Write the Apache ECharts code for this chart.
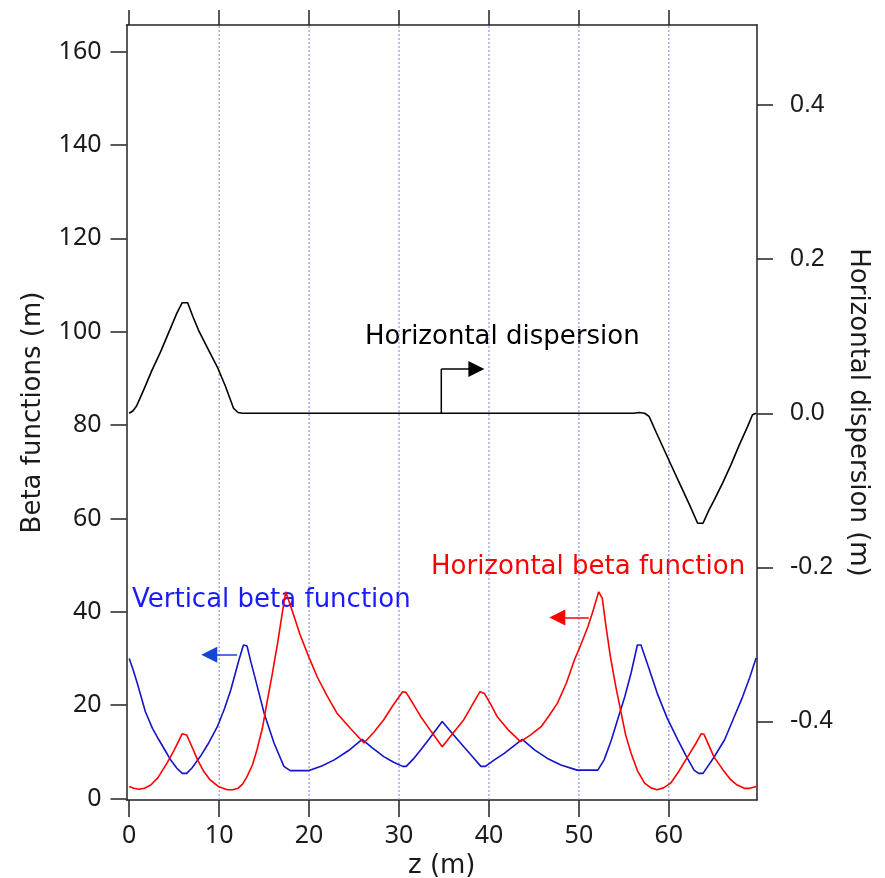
<!DOCTYPE html>
<html>
<head>
<meta charset="utf-8">
<script src="https://cdn.jsdelivr.net/npm/echarts@6/dist/echarts.min.js"></script>
<style>
html, body { margin: 0; padding: 0; background: #fff; }
#chart { width: 885px; height: 878px; }
</style>
</head>
<body>
<div id="chart"></div>
<script>
// Axis ticks
const zTicks = [0, 10, 20, 30, 40, 50, 60];
const gridZ = [10, 20, 30, 40, 50, 60];
const betaTicks = [0, 20, 40, 60, 80, 100, 120, 140, 160];
const dispTicks = [-0.4, -0.2, 0.0, 0.2, 0.4];

// Horizontal beta function (m) along z (m)
const betaXz = [0.0, 0.5, 1.1, 1.7, 2.4, 3.2, 4.2, 5.0, 5.9, 6.4, 7.0, 7.6, 8.3, 9.0, 9.9, 10.9, 11.5, 12.1, 12.6, 13.1,
  13.7, 14.2, 14.8, 15.3, 15.9, 16.5, 17.0, 17.4, 17.6, 18.1, 19.0, 20.0, 20.9, 22.0, 23.1, 24.6, 26.1, 27.2, 28.3, 29.3,
  30.4, 30.8, 31.6, 32.4, 33.6, 34.8, 36.0, 37.2, 38.1, 39.0, 39.5, 40.2, 40.9, 42.2, 43.5, 44.6, 45.8, 46.7, 47.6, 48.6,
  49.5, 50.2, 51.0, 51.6, 52.2, 52.4, 52.6, 53.0, 53.5, 54.1, 54.7, 55.2, 55.8, 56.5, 57.3, 58.0, 58.7, 59.4, 60.2, 61.1,
  62.1, 63.0, 63.6, 63.9, 64.4, 65.0, 66.0, 66.9, 67.6, 68.4, 69.0, 69.7];
const betaX = [2.6, 2.2, 2.0, 2.2, 2.9, 4.5, 7.6, 10.4, 13.9, 13.6, 11.0, 8.3, 5.8, 4.0, 2.6, 1.9, 1.9, 2.2, 3.1, 4.7,
  7.2, 10.4, 15.0, 20.4, 26.6, 33.3, 39.5, 44.3, 44.0, 40.4, 35.1, 30.2, 26.1, 22.0, 18.3, 15.0, 11.9, 14.2, 16.9, 19.9,
  22.9, 22.7, 20.2, 17.6, 14.3, 11.1, 14.0, 16.9, 19.9, 22.9, 22.5, 20.2, 17.6, 14.6, 12.2, 13.6, 15.4, 17.8, 20.4, 24.7,
  29.7, 32.9, 36.8, 40.4, 44.3, 44.2, 42.9, 37.0, 30.4, 24.0, 18.3, 13.6, 9.7, 6.0, 3.3, 2.3, 1.9, 2.3, 3.3, 5.8,
  9.0, 11.8, 13.9, 13.8, 11.6, 9.0, 6.2, 4.0, 2.9, 2.2, 2.2, 2.6];

// Vertical beta function (m) along z (m)
const betaYz = [0.0, 0.4, 0.9, 1.8, 2.6, 3.3, 4.0, 4.6, 5.3, 5.9, 6.4, 7.0, 7.9, 8.8, 9.8, 10.6, 11.3, 12.2, 12.7, 13.1,
  13.5, 14.0, 15.0, 16.1, 17.2, 17.9, 20.0, 21.4, 22.8, 24.4, 25.9, 27.0, 28.3, 29.4, 30.4, 30.8, 31.6, 32.4, 33.6, 34.8,
  36.0, 37.2, 38.2, 39.1, 39.6, 40.6, 41.7, 43.7, 45.1, 46.5, 48.0, 49.8, 52.1, 52.8, 53.6, 54.3, 55.1, 55.8, 56.5, 56.9,
  57.8, 58.7, 59.8, 61.0, 61.9, 62.8, 63.3, 63.8, 65.0, 66.2, 67.2, 68.2, 69.0, 69.7];
const betaY = [30.0, 27.8, 24.7, 18.6, 15.0, 12.6, 10.3, 8.3, 6.5, 5.4, 5.4, 6.6, 9.0, 11.8, 15.4, 19.3, 23.3, 29.7, 32.9, 32.7,
  29.5, 25.8, 18.3, 11.9, 6.9, 6.0, 6.0, 7.0, 8.3, 10.3, 12.7, 10.9, 9.0, 7.8, 6.9, 6.9, 8.5, 10.4, 13.4, 16.5,
  13.8, 11.1, 8.9, 6.9, 6.9, 8.3, 9.7, 12.7, 10.4, 8.6, 7.2, 6.1, 6.1, 8.3, 12.5, 16.9, 21.8, 26.9, 32.9, 32.9,
  27.8, 22.6, 17.3, 12.6, 9.2, 6.1, 5.4, 5.4, 8.8, 12.6, 17.2, 21.8, 26.0, 30.1];

// Horizontal dispersion (m) along z (m)
const dispZ = [0.0, 0.4, 0.8, 1.6, 2.5, 3.5, 4.4, 5.3, 5.9, 6.5, 7.1, 7.7, 8.7, 9.8, 10.7, 11.6, 12.1, 12.6,
  56.1, 56.7, 57.3, 57.8, 58.6, 59.5, 60.4, 61.35, 62.3, 63.2, 63.8, 64.4, 65.05, 66.0, 66.9, 67.8, 68.76, 69.3, 69.7];
const disp = [0.0, 0.003, 0.009, 0.030, 0.055, 0.080, 0.105, 0.130, 0.1435, 0.1435, 0.125, 0.108, 0.085, 0.060, 0.035, 0.0065, 0.001, 0.0,
  0.0, 0.001, 0.0, -0.004, -0.025, -0.048, -0.071, -0.095, -0.119, -0.1427, -0.1427, -0.127, -0.1125, -0.090, -0.067, -0.042, -0.017, -0.002, 0.0];

// Annotation arrows (data coordinates)
const dispStem = [[34.7, 0.0], [34.7, 0.0575]];
const dispArrow = [[34.7, 0.0575], [38.6, 0.0575]];
const betaYArrow = [[12.0, 30.8], [8.9, 30.8]];
const betaXArrow = [[51.1, 38.8], [47.6, 38.8]];

const betaRange = [-0.3, 165.7];
const zRange = [-0.3, 69.8];
const dispRange = [-0.502, 0.504];

const zip = (xs, ys) => xs.map((x, i) => [x, ys[i]]);

const axisColor = '#222';
const tickFont = { fontSize: 25, fontFamily: 'Noto Sans', color: '#1a1a1a' };
const titleFont = { fontSize: 26, fontFamily: 'DejaVu Sans', color: '#1a1a1a' };

// dotted vertical reference lines, one short series per z position
const gridSeries = gridZ.map(z => ({
  type: 'line', xAxisIndex: 0, yAxisIndex: 0, z: 1, silent: true,
  data: [[z, betaRange[0]], [z, betaRange[1]]], showSymbol: false, symbol: 'none',
  lineStyle: { color: '#7a7aff', width: 1, type: [2, 2] },
  emphasis: { disabled: true }
}));

const chart = echarts.init(document.getElementById('chart'), null, { renderer: 'canvas' });

chart.setOption({
  animation: false,
  backgroundColor: '#fff',
  grid: { left: 126.5, right: 128, top: 25, bottom: 78, containLabel: false, outerBoundsMode: 'none' },
  xAxis: [
    {
      type: 'value', position: 'bottom', min: zRange[0], max: zRange[1],
      axisLine: { show: true, onZero: false, lineStyle: { color: axisColor, width: 1.5 } },
      axisTick: { show: true, inside: false, length: 17, customValues: zTicks, lineStyle: { color: axisColor, width: 1.5 } },
      axisLabel: Object.assign({ customValues: zTicks, margin: 23 }, tickFont),
      splitLine: { show: false },
      name: 'z (m)', nameLocation: 'middle', nameGap: 49, nameTextStyle: titleFont
    },
    {
      type: 'value', position: 'top', min: zRange[0], max: zRange[1],
      axisLine: { show: true, onZero: false, lineStyle: { color: axisColor, width: 1.5 } },
      axisTick: { show: true, inside: false, length: 15, customValues: zTicks, lineStyle: { color: axisColor, width: 1.5 } },
      axisLabel: { show: false },
      splitLine: { show: false }
    }
  ],
  yAxis: [
    {
      type: 'value', position: 'left', min: betaRange[0], max: betaRange[1],
      axisLine: { show: true, onZero: false, lineStyle: { color: axisColor, width: 1.5 } },
      axisTick: { show: true, inside: false, length: 16, customValues: betaTicks, lineStyle: { color: axisColor, width: 1.5 } },
      axisLabel: Object.assign({ customValues: betaTicks, margin: 25 }, tickFont),
      splitLine: { show: false },
      name: 'Beta functions (m)', nameLocation: 'middle', nameGap: 80, nameRotate: 90, nameTextStyle: titleFont
    },
    {
      type: 'value', position: 'right', min: dispRange[0], max: dispRange[1],
      axisLine: { show: true, onZero: false, lineStyle: { color: axisColor, width: 1.5 } },
      axisTick: { show: true, inside: false, length: 16, customValues: dispTicks, lineStyle: { color: axisColor, width: 1.5 } },
      axisLabel: {
        customValues: dispTicks, margin: 33, fontSize: 25, fontFamily: 'Liberation Sans', color: '#1a1a1a',
        formatter: v => v.toFixed(1)
      },
      splitLine: { show: false },
      name: 'Horizontal dispersion (m)', nameLocation: 'middle', nameGap: 88, nameRotate: -90, nameTextStyle: titleFont
    }
  ],
  series: gridSeries.concat([
    {
      name: 'Horizontal dispersion', type: 'line', xAxisIndex: 0, yAxisIndex: 1,
      data: zip(dispZ, disp), showSymbol: false, symbol: 'none',
      lineStyle: { color: '#000', width: 1.6 }
    },
    {
      name: 'Vertical beta function', type: 'line', xAxisIndex: 0, yAxisIndex: 0,
      data: zip(betaYz, betaY), showSymbol: false, symbol: 'none',
      lineStyle: { color: '#1414c8', width: 1.6 }
    },
    {
      name: 'Horizontal beta function', type: 'line', xAxisIndex: 0, yAxisIndex: 0,
      data: zip(betaXz, betaX), showSymbol: false, symbol: 'none',
      lineStyle: { color: '#ff0000', width: 1.6 }
    },
    {
      type: 'line', xAxisIndex: 0, yAxisIndex: 1, data: dispStem, showSymbol: false, symbol: 'none',
      lineStyle: { color: '#000', width: 1.5 }
    },
    {
      type: 'lines', coordinateSystem: 'cartesian2d', xAxisIndex: 0, yAxisIndex: 1,
      symbol: ['none', 'triangle'], symbolSize: [9, 16],
      lineStyle: { color: '#000', width: 1.5, opacity: 1 },
      data: [{ coords: dispArrow }]
    },
    {
      type: 'lines', coordinateSystem: 'cartesian2d', xAxisIndex: 0, yAxisIndex: 0,
      symbol: ['none', 'triangle'], symbolSize: [9, 16],
      lineStyle: { color: '#1446d2', width: 1.5, opacity: 1 },
      data: [{ coords: betaYArrow }]
    },
    {
      type: 'lines', coordinateSystem: 'cartesian2d', xAxisIndex: 0, yAxisIndex: 0,
      symbol: ['none', 'triangle'], symbolSize: [9, 16],
      lineStyle: { color: '#ff0000', width: 1.5, opacity: 1 },
      data: [{ coords: betaXArrow }]
    }
  ]),
  graphic: [
    { type: 'text', x: 365, y: 337, style: { text: 'Horizontal dispersion', fill: '#000', font: '26px "DejaVu Sans"', verticalAlign: 'middle' } },
    { type: 'text', x: 132, y: 600, style: { text: 'Vertical beta function', fill: '#1a1aff', font: '26px "DejaVu Sans"', verticalAlign: 'middle' } },
    { type: 'text', x: 431, y: 567, style: { text: 'Horizontal beta function', fill: '#ff0000', font: '26px "DejaVu Sans"', verticalAlign: 'middle' } }
  ]
});
</script>
</body>
</html>
